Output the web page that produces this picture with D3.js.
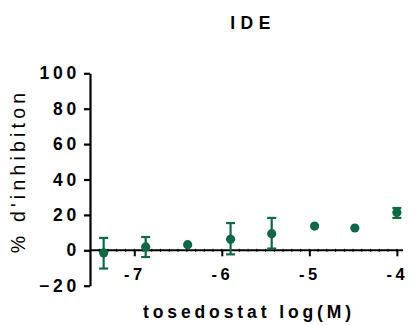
<!DOCTYPE html>
<html><head><meta charset="utf-8">
<script src="https://cdn.jsdelivr.net/npm/d3@7"></script>
<style>body{margin:0;background:#fff}svg{display:block}</style>
</head><body>
<script>
const logConc = [-7.35, -6.87, -6.39, -5.9, -5.43, -4.94, -4.48, -4.0];
const meanInh = [-1.5, 1.9, 3.2, 6.2, 9.4, 13.7, 12.6, 21.3];
const errUp   = [7.0, 7.5, null, 15.4, 18.3, null, null, 23.9];
const errLow  = [-10.3, -3.8, null, -2.3, 1.0, null, null, 18.3];
const xTicks = [-7, -6, -5, -4];
const yTicks = [-20, 0, 20, 40, 60, 80, 100];

const W = 410, H = 325, green = "#0b6a46";
const FONT = "Liberation Sans, Arial, sans-serif";
const svg = d3.select("body").append("svg").attr("width", W).attr("height", H);
const x = d3.scaleLinear().domain([-7.506, -3.93]).range([90, 403]);
const y = d3.scaleLinear().domain([-20, 100]).range([285.7, 73.3]);

// Y axis
const gy = svg.append("g").attr("transform", "translate(90,0)")
  .call(d3.axisLeft(y).tickValues(yTicks).tickSize(6).tickPadding(4).tickSizeOuter(0));
gy.select(".domain").attr("stroke", "#000").attr("stroke-width", 2.2);
gy.selectAll(".tick line").attr("stroke", "#000").attr("stroke-width", 2.2);
gy.selectAll(".tick text").attr("font-family", FONT)
  .attr("font-size", 17.5).attr("font-weight", "bold").attr("fill", "#000")
  .style("letter-spacing", "3.8px");

// X axis at y=0
const gx = svg.append("g").attr("transform", `translate(0,${y(0)})`);
const minor = d3.range(-7.5, -3.9, 0.1);
gx.selectAll("line.minor").data(minor).join("line").attr("class", "minor")
  .attr("x1", d => x(d)).attr("x2", d => x(d)).attr("y1", -1.5).attr("y2", 1.5)
  .attr("stroke", "#000").attr("stroke-width", 1);
gx.call(d3.axisBottom(x).tickValues(xTicks).tickSize(6).tickPadding(12).tickSizeOuter(0)
  .tickFormat(d => String(d)));
gx.select(".domain").attr("stroke", "#000").attr("stroke-width", 2);
gx.selectAll(".tick line").attr("stroke", "#000").attr("stroke-width", 2);
gx.selectAll(".tick text").attr("font-family", FONT)
  .attr("font-size", 16.5).attr("font-weight", "bold").attr("fill", "#000")
  .style("letter-spacing", "3.5px");
gx.select(".domain").attr("d", `M${x.range()[0]},0H${x.range()[1]}`);

// Error bars
const data = logConc.map((c, i) => ({c, m: meanInh[i], hi: errUp[i], lo: errLow[i]}));
const eb = svg.append("g").selectAll("g").data(data.filter(d => d.hi != null)).join("g")
  .attr("stroke", green).attr("stroke-width", 2.2);
eb.append("line").attr("x1", d => x(d.c)).attr("x2", d => x(d.c))
  .attr("y1", d => y(d.hi)).attr("y2", d => y(d.lo));
eb.append("line").attr("x1", d => x(d.c) - 4.5).attr("x2", d => x(d.c) + 4.5)
  .attr("y1", d => y(d.hi)).attr("y2", d => y(d.hi));
eb.append("line").attr("x1", d => x(d.c) - 4.5).attr("x2", d => x(d.c) + 4.5)
  .attr("y1", d => y(d.lo)).attr("y2", d => y(d.lo));

// Points
svg.append("g").selectAll("circle").data(data).join("circle")
  .attr("cx", d => x(d.c)).attr("cy", d => y(d.m)).attr("r", 4.6).attr("fill", green);

// Title
svg.append("text").attr("x", 253).attr("y", 29.3).attr("text-anchor", "middle")
  .attr("font-family", FONT).attr("font-size", 17.5)
  .attr("font-weight", "bold").style("letter-spacing", "5.5px").text("IDE");

// X label
svg.append("text").attr("x", 249).attr("y", 318).attr("text-anchor", "middle")
  .attr("font-family", FONT).attr("font-size", 17.5)
  .attr("font-weight", "bold").style("letter-spacing", "3.9px").text("tosedostat log(M)");

// Y label
svg.append("text").attr("transform", "translate(25,171) rotate(-90)").attr("text-anchor", "middle")
  .attr("font-family", FONT).attr("font-size", 19.5)
  .style("letter-spacing", "4.2px").text("% d'inhibiton");
</script>
</body></html>
